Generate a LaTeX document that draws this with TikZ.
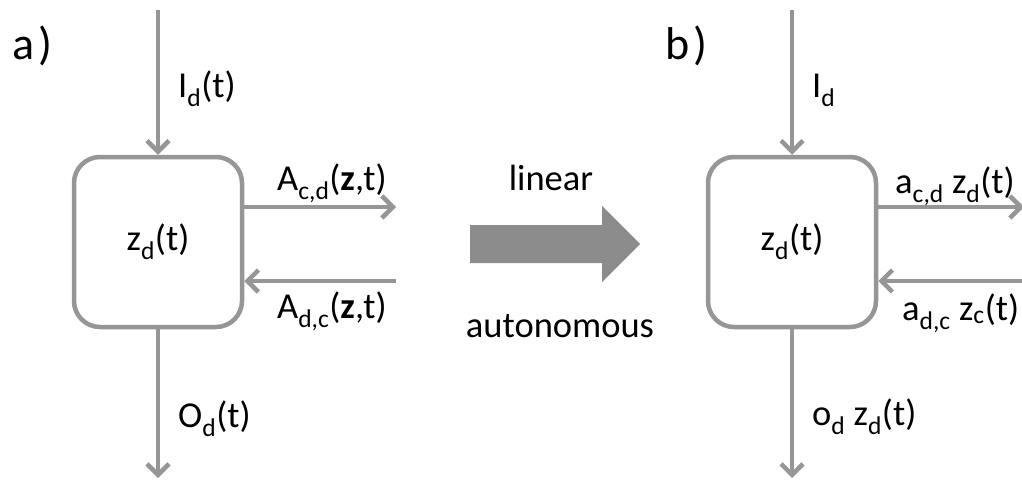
\documentclass[tikz,border=0pt]{standalone}
\usepackage{fontspec}
\setmainfont{Carlito}
\usetikzlibrary{arrows.meta}
\definecolor{linegray}{RGB}{150,150,150}
\definecolor{arrowgray}{RGB}{140,140,140}
\newcommand{\sbs}[1]{\textsubscript{#1}}
\begin{document}
\begin{tikzpicture}[x=1pt,y=-1pt,
  flow/.style={draw=linegray, line width=4.5pt, -{Straight Barb[length=11pt,width=22pt,line width=4.5pt]}},
  blk/.style={draw=linegray, line width=4.5pt, rounded corners=26pt, minimum width=168pt, minimum height=170pt, fill=white},
  lbl/.style={anchor=base west, inner sep=0pt, font=\fontsize{36.5}{40}\selectfont},
  big/.style={anchor=base west, inner sep=0pt, font=\fontsize{46}{50}\selectfont}]
\useasboundingbox (0,0) rectangle (1022,482);
% panel labels
\node[big] (la) at (12,59) {a\kern4pt)};
\node[big] (lb) at (665,59) {b\kern4pt)};
% left block
\node[blk, lbl, anchor=center] (zl) at (158,242) {z\sbs{d}(t)};
\coordinate (lin) at (158,10);
\coordinate (lout) at (158,478);
\coordinate (lr1) at (396,207);
\coordinate (lr2) at (396,281);
\draw[flow] (lin) -- (zl.north);
\draw[flow] (zl.south) -- (lout);
\draw[flow] (zl.east |- lr1) -- (lr1);
\draw[flow] (lr2) -- (zl.east |- lr2);
\node[lbl] (lI) at (178,97) {I\sbs{d}(t)};
\node[lbl] (lA1) at (277,190) {A\sbs{c,d}(\textbf{z},t)};
\node[lbl] (lA2) at (277,318) {A\sbs{d,c}(\textbf{z},t)};
\node[lbl] (lO) at (178,427) {O\sbs{d}(t)};
% big arrow
\fill[arrowgray] (470,225) -- (602,225) -- (602,206) -- (640,244) -- (602,282) -- (602,263) -- (470,263) -- cycle;
\node[lbl, anchor=base] (lin2) at (551,190) {linear};
\node[lbl, anchor=base] (aut) at (560,337) {autonomous};
% right block
\node[blk, lbl, anchor=center] (zr) at (792,242) {z\sbs{d}(t)};
\coordinate (rin) at (792,10);
\coordinate (rout) at (792,478);
\coordinate (rr1) at (1024,207);
\coordinate (rr2) at (1024,281);
\draw[flow] (rin) -- (zr.north);
\draw[flow] (zr.south) -- (rout);
\draw[flow] (zr.east |- rr1) -- (rr1);
\draw[flow] (rr2) -- (zr.east |- rr2);
\node[lbl] (rI) at (812,97) {I\sbs{d}};
\node[lbl] (ra1) at (895,193) {a\sbs{c,d} z\sbs{d}(t)};
\node[lbl] (ra2) at (902,320) {a\sbs{d,c} z\sbs{c}(t)};
\node[lbl] (ro) at (812,425) {o\sbs{d} z\sbs{d}(t)};
\end{tikzpicture}
\end{document}
